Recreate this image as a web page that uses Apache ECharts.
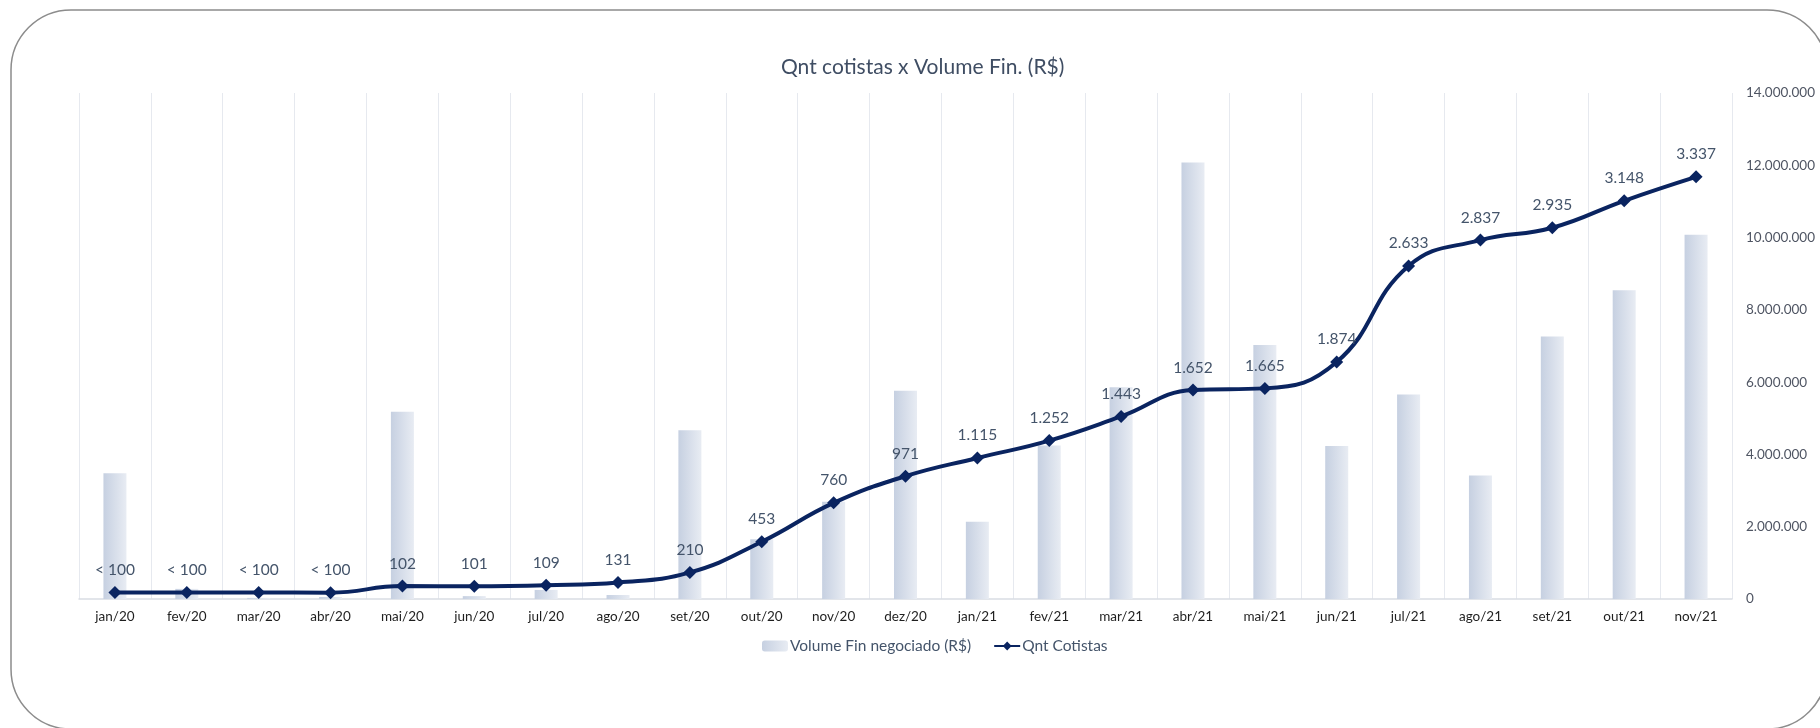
<!DOCTYPE html>
<html>
<head>
<meta charset="utf-8">
<script src="https://cdn.jsdelivr.net/npm/echarts@6/dist/echarts.min.js"></script>
<style>
html,body{margin:0;padding:0;background:#fff;}
#chart{width:1820px;height:728px;}
</style>
</head>
<body>
<div id="chart"></div>
<script>
// ---- data ----
const categories = ['jan/20','fev/20','mar/20','abr/20','mai/20','jun/20','jul/20','ago/20','set/20','out/20','nov/20','dez/20','jan/21','fev/21','mar/21','abr/21','mai/21','jun/21','jul/21','ago/21','set/21','out/21','nov/21'];
const volumeFin = [3480000, 280000, 30000, 55000, 5180000, 80000, 250000, 110000, 4670000, 1650000, 2690000, 5760000, 2140000, 4250000, 5860000, 12080000, 7030000, 4230000, 5660000, 3420000, 7260000, 8540000, 10080000];
const qntCotistas = [52, 52, 52, 50, 102, 101, 109, 131, 210, 453, 760, 971, 1115, 1252, 1443, 1652, 1665, 1874, 2633, 2837, 2935, 3148, 3337];
const cotistasLabels = ['< 100','< 100','< 100','< 100','102','101','109','131','210','453','760','971','1.115','1.252','1.443','1.652','1.665','1.874','2.633','2.837','2.935','3.148','3.337'];
const volumeTicks = [0, 2000000, 4000000, 6000000, 8000000, 10000000, 12000000, 14000000];

const FONT = 'Lato';
function fmtThousands(v){ return String(Math.round(v)).replace(/\B(?=(\d{3})+(?!\d))/g, '.'); }

const chart = echarts.init(document.getElementById('chart'), null, {renderer:'canvas'});
chart.setOption({
  backgroundColor: '#ffffff',
  animation: false,
  textStyle: { fontFamily: FONT },
  graphic: [{
    type: 'rect', silent: true, z: -10,
    shape: { x: 11, y: 10, width: 1816, height: 719, r: 60 },
    style: { fill: 'none', stroke: '#8c8c8c', lineWidth: 1.5 }
  }],
  title: {
    text: 'Qnt cotistas x Volume Fin. (R$)',
    left: 776, top: 52,
    textStyle: { fontFamily: FONT, fontSize: 21, fontWeight: 'normal', color: '#3f4d63' }
  },
  legend: {
    bottom: 69, left: 757,
    itemGap: 22, itemWidth: 26, itemHeight: 11,
    textStyle: { fontFamily: FONT, fontSize: 15.5, color: '#44546A', padding: [0,0,0,-3] },
    data: [
      { name: 'Volume Fin negociado (R$)' },
      { name: 'Qnt Cotistas' }
    ]
  },
  grid: { left: 79, right: 88, top: 93, bottom: 129, containLabel: false, outerBoundsMode: 'none' },
  xAxis: {
    type: 'category',
    data: categories,
    boundaryGap: true,
    axisLine: { show: true, lineStyle: { color: '#d9dde4', width: 1.5 } },
    axisTick: { show: false },
    splitLine: { show: true, lineStyle: { color: '#e6e9ef', width: 1 } },
    axisLabel: { fontFamily: FONT, fontSize: 13.5, color: '#1f1f1f', margin: 11, interval: 0 }
  },
  yAxis: [
    {
      type: 'value', position: 'right',
      min: 0, max: 14000000, interval: 2000000,
      axisLine: { show: false }, axisTick: { show: false },
      splitLine: { show: false },
      axisLabel: { fontFamily: FONT, fontSize: 13.5, color: '#4f5563', margin: 14,
        formatter: v => volumeTicks.indexOf(v) >= 0 ? fmtThousands(v) : '' }
    },
    {
      type: 'value', position: 'left', show: false,
      min: 0, max: 4000, interval: 1000,
      splitLine: { show: false }
    }
  ],
  series: [
    {
      name: 'Volume Fin negociado (R$)',
      type: 'bar',
      yAxisIndex: 0,
      barWidth: 23,
      data: volumeFin,
      itemStyle: {
        color: new echarts.graphic.LinearGradient(0, 0, 1, 0, [
          { offset: 0, color: '#c6d0e1' },
          { offset: 1, color: '#e8ecf3' }
        ])
      },
      z: 1
    },
    {
      name: 'Qnt Cotistas',
      type: 'line',
      yAxisIndex: 1,
      data: qntCotistas,
      smooth: 0.45,
      symbol: 'diamond',
      symbolSize: 13,
      lineStyle: { color: '#0a2460', width: 4 },
      itemStyle: { color: '#0a2460' },
      label: {
        show: true, position: 'top', distance: 8,
        fontFamily: FONT, fontSize: 15.5, color: '#44546A',
        formatter: p => cotistasLabels[p.dataIndex]
      },
      z: 3
    }
  ]
});
</script>
</body>
</html>
